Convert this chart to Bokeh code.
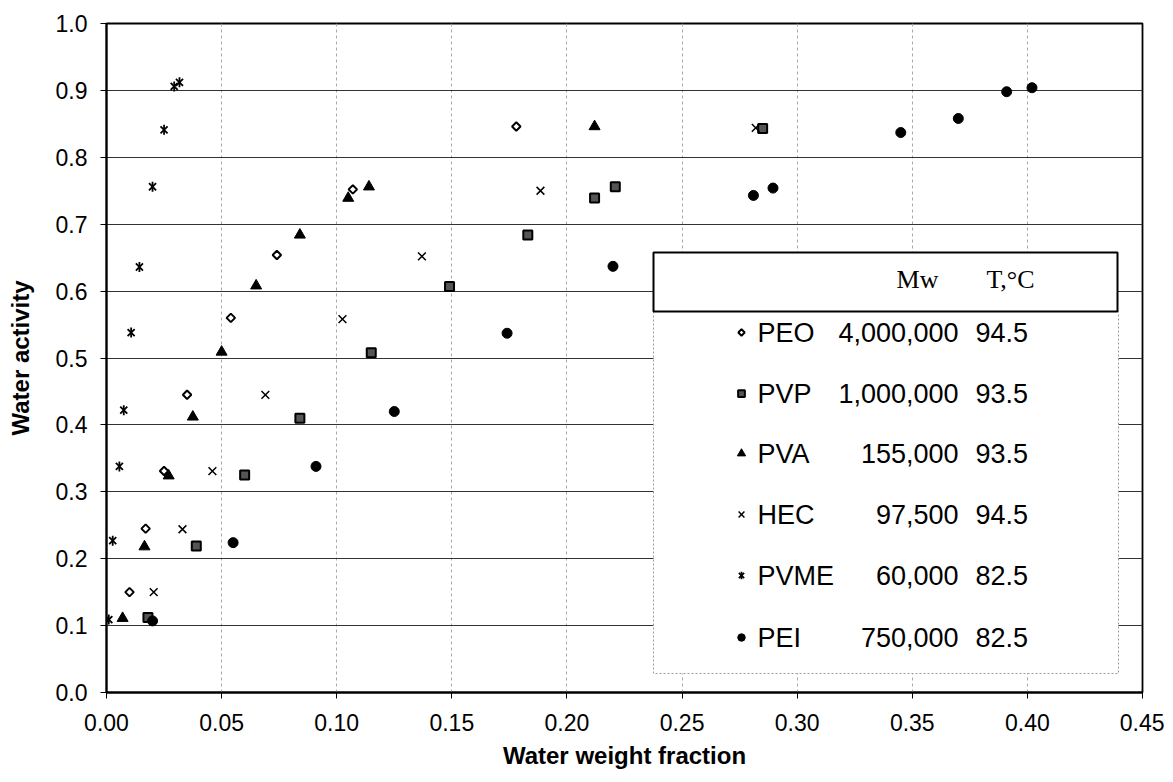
import math
from bokeh.plotting import figure
from bokeh.models import FixedTicker, PrintfTickFormatter, Range1d
from bokeh.core.properties import value
from bokeh.embed import file_html
from bokeh.resources import INLINE

# ---- data ----
peo_x = [0.010, 0.017, 0.025, 0.035, 0.054, 0.074, 0.107, 0.178]
peo_y = [0.150, 0.245, 0.331, 0.445, 0.560, 0.654, 0.752, 0.846]

pvp_x = [0.018, 0.039, 0.060, 0.084, 0.115, 0.149, 0.183, 0.212, 0.221, 0.285]
pvp_y = [0.112, 0.219, 0.325, 0.410, 0.508, 0.607, 0.684, 0.739, 0.756, 0.843]

pva_x = [0.007, 0.0165, 0.027, 0.0375, 0.050, 0.065, 0.084, 0.105, 0.114, 0.212]
pva_y = [0.111, 0.218, 0.324, 0.412, 0.509, 0.608, 0.684, 0.739, 0.756, 0.846]

hec_x = [0.0205, 0.033, 0.046, 0.069, 0.1025, 0.137, 0.1885, 0.282]
hec_y = [0.150, 0.244, 0.331, 0.445, 0.558, 0.652, 0.750, 0.844]

pvme_x = [0.001, 0.0027, 0.0056, 0.0075, 0.0107, 0.0143, 0.020, 0.025, 0.0294, 0.0317]
pvme_y = [0.109, 0.227, 0.338, 0.422, 0.538, 0.636, 0.756, 0.841, 0.906, 0.912]

pei_x = [0.020, 0.055, 0.091, 0.125, 0.174, 0.220, 0.281, 0.2895, 0.345, 0.370, 0.391, 0.402]
pei_y = [0.107, 0.224, 0.338, 0.420, 0.537, 0.637, 0.743, 0.754, 0.837, 0.858, 0.898, 0.904]

names = ["PEO", "PVP", "PVA", "HEC", "PVME", "PEI"]
mw_labels = ["4,000,000", "1,000,000", "155,000", "97,500", "60,000", "750,000"]
t_labels = ["94.5", "93.5", "93.5", "94.5", "82.5", "82.5"]
header_labels = ["Mw", "T,\u00b0C"]

x_ticks = [0.00, 0.05, 0.10, 0.15, 0.20, 0.25, 0.30, 0.35, 0.40, 0.45]
y_ticks = [0.0, 0.1, 0.2, 0.3, 0.4, 0.5, 0.6, 0.7, 0.8, 0.9, 1.0]

# ---- marker styles (each series may stack several bokeh markers) ----
styles = [
    [dict(marker="square", angle=math.pi / 4, size=6, fill_color="white",
          line_color="black", line_width=2)],
    [dict(marker="square", size=9, fill_color="#555555", line_color="black", line_width=2)],
    [dict(marker="triangle", size=11, fill_color="black", line_color="black", line_width=1)],
    [dict(marker="x", size=11, fill_color=None, line_color="black", line_width=1.5)],
    [dict(marker="x", size=10, fill_color=None, line_color="black", line_width=1.8),
     dict(marker="dash", angle=math.pi / 2, size=10, fill_color=None,
          line_color="black", line_width=1.8)],
    [dict(marker="circle", size=10, fill_color="black", line_color="black", line_width=1)],
]
series = [(peo_x, peo_y), (pvp_x, pvp_y), (pva_x, pva_y),
          (hec_x, hec_y), (pvme_x, pvme_y), (pei_x, pei_y)]

FRAME_L, FRAME_T, FRAME_W, FRAME_H = 106, 23, 1036, 669
XMAX, YMAX = 0.45, 1.0

def dx(px):
    return (px - FRAME_L) / FRAME_W * XMAX

def dy(py):
    return (FRAME_T + FRAME_H - py) / FRAME_H * YMAX

p = figure(frame_width=FRAME_W, frame_height=FRAME_H,
           x_range=Range1d(0, XMAX), y_range=Range1d(0, YMAX),
           output_backend="svg", toolbar_location=None,
           min_border_left=FRAME_L, min_border_right=22,
           min_border_top=FRAME_T, min_border_bottom=82)
p.background_fill_color = "white"
p.border_fill_color = "white"
p.outline_line_color = "black"
p.outline_line_width = 1.8

font = "Liberation Sans"
for ax in (p.xaxis[0], p.yaxis[0]):
    ax.major_label_text_font = font
    ax.major_label_text_font_size = "23px"
    ax.major_label_text_color = "black"
    ax.axis_label_text_font = font
    ax.axis_label_text_font_size = "24px"
    ax.axis_label_text_font_style = "bold"
    ax.axis_label_text_color = "black"
    ax.axis_line_color = "black"
    ax.axis_line_width = 2
    ax.major_tick_line_color = "black"
    ax.major_tick_in = 0
    ax.major_tick_out = 6
    ax.minor_tick_line_color = None

p.xaxis.axis_label = "Water weight fraction"
p.yaxis.axis_label = "Water activity"
p.xaxis.ticker = FixedTicker(ticks=x_ticks)
p.yaxis.ticker = FixedTicker(ticks=y_ticks)
p.xaxis.formatter = PrintfTickFormatter(format="%.2f")
p.yaxis.formatter = PrintfTickFormatter(format="%.1f")
p.xaxis.major_label_standoff = 15
p.yaxis.major_label_standoff = 13
p.xaxis.axis_label_standoff = 8
p.yaxis.axis_label_standoff = 19

p.xgrid.ticker = FixedTicker(ticks=x_ticks)
p.ygrid.ticker = FixedTicker(ticks=y_ticks)
p.xgrid.grid_line_color = "#a8a8a8"
p.xgrid.grid_line_dash = "3 3"
p.xgrid.grid_line_width = 1
p.ygrid.grid_line_color = "#333333"
p.ygrid.grid_line_width = 1

for (xs, ys), st_list in zip(series, styles):
    for st in st_list:
        p.scatter(xs, ys, **st)

# ---- custom legend ----
row_py = [332, 393, 453, 514, 575, 637]
row_y = [dy(v) for v in row_py]

p.quad(left=[dx(653)], right=[dx(1118)], top=[dy(311)], bottom=[dy(673)],
       fill_color="white", line_color="#9a9a9a", line_dash="2 2", line_width=1)
p.quad(left=[dx(653)], right=[dx(1117)], top=[dy(252)], bottom=[dy(311)],
       fill_color="white", line_color="black", line_width=2)

for i, st_list in enumerate(styles):
    for st in st_list:
        s = dict(st)
        s["size"] = st["size"] * 0.75
        p.scatter([dx(741)], [row_y[i]], **s)

p.text(x=[dx(757)] * len(names), y=row_y, text=names,
       text_font=value(font), text_font_size="27px", text_align="left",
       text_baseline="middle", text_color="black")
p.text(x=[dx(958)] * len(names), y=row_y, text=mw_labels,
       text_font=value(font), text_font_size="27px", text_align="right",
       text_baseline="middle", text_color="black")
p.text(x=[dx(975)] * len(names), y=row_y, text=t_labels,
       text_font=value(font), text_font_size="27px", text_align="left",
       text_baseline="middle", text_color="black")
p.text(x=[dx(917), dx(1010)], y=[dy(279), dy(279)], text=header_labels,
       text_font=value("Liberation Serif"), text_font_size="26px", text_align="center",
       text_baseline="middle", text_color="black")

open("out.html", "w").write(file_html(p, INLINE))
